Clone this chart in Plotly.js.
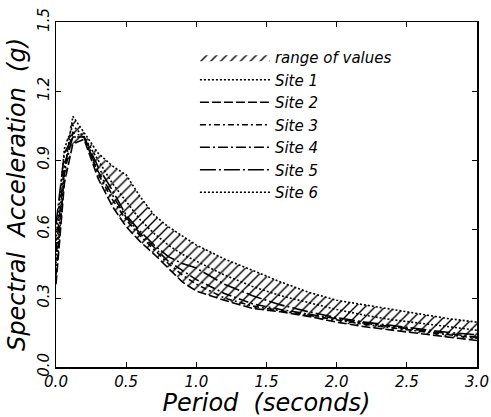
<!DOCTYPE html>
<html>
<head>
<meta charset="utf-8">
<script src="https://cdn.plot.ly/plotly-3.0.1.min.js"></script>
<style>html,body{margin:0;padding:0;background:#fff;}#chart{width:491px;height:417px;}</style>
</head>
<body>
<div id="chart"></div>
<script>
// Period (seconds)
const period = [0, 0.06, 0.12, 0.2, 0.3, 0.4, 0.5, 0.6, 0.7, 0.8, 0.9, 1.0, 1.2, 1.4, 1.6, 1.8, 2.0, 2.2, 2.4, 2.6, 2.8, 3.0];
// Spectral acceleration (g) per site
const site1 = [0.45, 0.85, 1.09, 1.02, 0.93, 0.875, 0.835, 0.74, 0.66, 0.61, 0.57, 0.53, 0.47, 0.42, 0.37, 0.325, 0.29, 0.27, 0.25, 0.23, 0.21, 0.195];
const site2 = [0.36, 0.80, 0.97, 0.99, 0.82, 0.70, 0.61, 0.545, 0.49, 0.43, 0.37, 0.33, 0.29, 0.255, 0.24, 0.22, 0.195, 0.175, 0.16, 0.145, 0.13, 0.115];
const site3 = [0.40, 0.84, 1.02, 1.00, 0.84, 0.73, 0.64, 0.57, 0.51, 0.45, 0.40, 0.36, 0.30, 0.265, 0.245, 0.225, 0.205, 0.185, 0.17, 0.155, 0.14, 0.125];
const site4 = [0.50, 0.88, 1.00, 1.00, 0.85, 0.75, 0.65, 0.58, 0.52, 0.46, 0.42, 0.38, 0.32, 0.275, 0.25, 0.23, 0.21, 0.19, 0.175, 0.16, 0.145, 0.13];
const site5 = [0.62, 0.93, 1.00, 1.00, 0.87, 0.77, 0.66, 0.59, 0.53, 0.48, 0.45, 0.43, 0.36, 0.31, 0.27, 0.24, 0.215, 0.195, 0.18, 0.165, 0.15, 0.14];
const site6 = [0.55, 0.95, 1.05, 1.00, 0.90, 0.80, 0.72, 0.64, 0.58, 0.53, 0.49, 0.46, 0.40, 0.35, 0.31, 0.28, 0.25, 0.225, 0.205, 0.19, 0.175, 0.16];
// Envelope (range of values)
const rangeUpper = [0.62, 0.95, 1.09, 1.02, 0.93, 0.875, 0.835, 0.74, 0.66, 0.61, 0.57, 0.53, 0.47, 0.42, 0.37, 0.325, 0.29, 0.27, 0.25, 0.23, 0.21, 0.195];
const rangeLower = [0.36, 0.80, 0.97, 0.99, 0.82, 0.70, 0.61, 0.545, 0.49, 0.43, 0.37, 0.33, 0.29, 0.255, 0.24, 0.22, 0.195, 0.175, 0.16, 0.145, 0.13, 0.115];

const xTicks = [0, 0.5, 1.0, 1.5, 2.0, 2.5, 3.0];
const xTickText = ['0.0', '0.5', '1.0', '1.5', '2.0', '2.5', '3.0'];
const yTicks = [0, 0.3, 0.6, 0.9, 1.2, 1.5];
const yTickText = ['0.0', '0.3', '0.6', '0.9', '1.2', '1.5'];

const siteNames = ['Site 1', 'Site 2', 'Site 3', 'Site 4', 'Site 5', 'Site 6'];
const siteData = [site1, site2, site3, site4, site5, site6];
const dashes = ['2px,2px', '9px,3px', '6px,3px,2px,3px', '10px,3px,2px,3px', '16px,3px,2px,3px', '2px,2px'];

const FONT = 'DejaVu Sans, sans-serif';

const traces = [
  {x: period, y: rangeLower, mode: 'lines', line: {width: 0, color: 'rgba(0,0,0,0)'}, showlegend: false, hoverinfo: 'skip'},
  {x: period, y: rangeUpper, mode: 'lines', line: {width: 0, color: 'rgba(0,0,0,0)'}, fill: 'tonexty',
   fillcolor: 'white', fillpattern: {shape: '/', fgcolor: 'black', bgcolor: 'white', size: 7, solidity: 0.2},
   name: 'range of values', showlegend: true}
];
for (let i = 0; i < 6; i++) {
  traces.push({x: period, y: siteData[i], mode: 'lines', name: siteNames[i],
    line: {color: 'black', width: 1.6, dash: dashes[i]}});
}

const layout = {
  width: 491, height: 417,
  margin: {l: 56, r: 14, t: 22, b: 50},
  paper_bgcolor: 'white', plot_bgcolor: 'white',
  font: {family: FONT, color: 'black'},
  showlegend: true,
  legend: {x: 0.33, y: 0.945, xanchor: 'left', yanchor: 'top', bgcolor: 'rgba(255,255,255,0)', traceorder: 'normal',
    font: {family: FONT, size: 15, style: 'italic', color: 'black'}, itemwidth: 70, tracegroupgap: 0},
  xaxis: {range: [0, 3], tickvals: xTicks, ticktext: xTickText, showgrid: false, zeroline: false,
    showline: true, linecolor: 'black', linewidth: 1.5, mirror: 'ticks', ticks: 'inside', ticklen: 5, tickcolor: 'black',
    tickfont: {family: FONT, size: 15, style: 'italic'}, automargin: false,
    title: {text: 'Period  (seconds)', font: {family: FONT, size: 24, style: 'italic'}, standoff: 2}},
  yaxis: {range: [0, 1.5], tickvals: yTicks, ticktext: yTickText, showgrid: false, zeroline: false,
    showline: true, linecolor: 'black', linewidth: 1.5, mirror: 'ticks', ticks: 'inside', ticklen: 5, tickcolor: 'black',
    tickangle: -90, tickfont: {family: FONT, size: 15, style: 'italic'}, automargin: false,
    title: {text: 'Spectral  Acceleration  (g)', font: {family: FONT, size: 24, style: 'italic'}, standoff: 2}}
};

Plotly.newPlot('chart', traces, layout, {displayModeBar: false, staticPlot: true});
</script>
</body>
</html>
